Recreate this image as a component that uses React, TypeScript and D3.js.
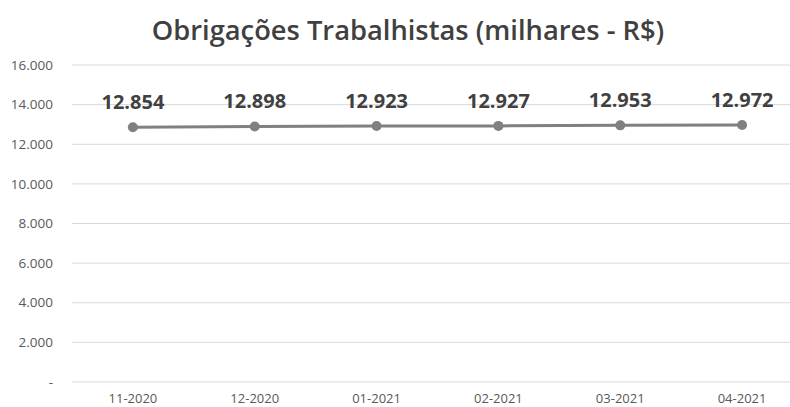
import * as d3 from "d3";

const months = ["11-2020", "12-2020", "01-2021", "02-2021", "03-2021", "04-2021"];
const values = [12854, 12898, 12923, 12927, 12953, 12972];
const yTicks = [0, 2000, 4000, 6000, 8000, 10000, 12000, 14000, 16000];

const width = 790;
const height = 407;
const marginLeft = 72;
const plotRight = 803;
const plotTop = 65;
const plotBottom = 382;

const fmt = (v: number) => (v === 0 ? "-" : d3.format(",")(v).replace(/,/g, "."));

export default function App() {
  const x = d3.scaleBand<string>().domain(months).range([marginLeft, plotRight]);
  const y = d3.scaleLinear().domain([0, 16000]).range([plotBottom, plotTop]);
  const cx = (m: string) => (x(m) ?? 0) + x.bandwidth() / 2;

  const line = d3
    .line<number>()
    .x((d, i) => cx(months[i]))
    .y((d) => y(d));

  const font = "'Open Sans', 'Noto Sans', sans-serif";

  return (
    <svg
      width={width}
      height={height}
      style={{ position: "absolute", left: 0, top: 0, background: "#fff" }}
      fontFamily={font}
    >
      <text
        x={408}
        y={40}
        textAnchor="middle"
        fontSize={27.3}
        fontWeight={600}
        fill="#404040"
      >
        Obrigações Trabalhistas (milhares - R$)
      </text>

      <g>
        {yTicks.map((t) => (
          <g key={t}>
            <line x1={marginLeft} x2={plotRight} y1={y(t)} y2={y(t)} stroke="#d9d9d9" strokeWidth={1} />
            <text x={53} y={y(t)} dy="0.35em" textAnchor="end" fontSize={13.5} fill="#595959">
              {fmt(t)}
            </text>
          </g>
        ))}
      </g>

      <g>
        {months.map((m) => (
          <text key={m} x={cx(m)} y={403} textAnchor="middle" fontSize={13} fill="#595959">
            {m}
          </text>
        ))}
      </g>

      <path d={line(values) as string} fill="none" stroke="#808080" strokeWidth={3} />
      <g fill="#808080">
        {values.map((v, i) => (
          <circle key={i} cx={cx(months[i])} cy={y(v)} r={5} />
        ))}
      </g>
      <g>
        {values.map((v, i) => (
          <text
            key={i}
            x={cx(months[i])}
            y={y(v) - 18}
            textAnchor="middle"
            fontSize={20}
            fontWeight={700}
            fill="#404040"
          >
            {fmt(v)}
          </text>
        ))}
      </g>
    </svg>
  );
}
